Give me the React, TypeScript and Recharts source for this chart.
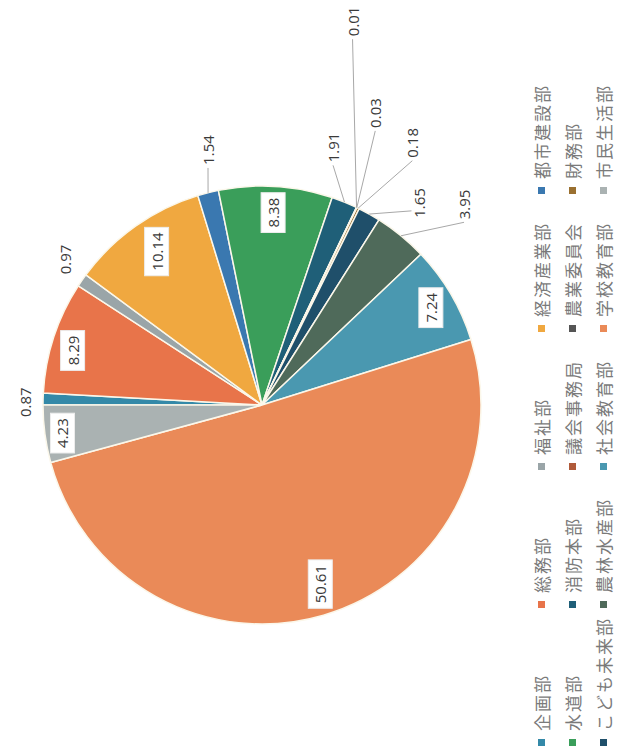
import React from 'react';
import { PieChart, Pie, Cell, Legend } from 'recharts';

const categories = ['企画部', '総務部', '福祉部', '経済産業部', '都市建設部', '水道部', '消防本部', '議会事務局', '農業委員会', '財務部', 'こども未来部', '農林水産部', '社会教育部', '学校教育部', '市民生活部'];
const values = [0.87, 8.29, 0.97, 10.14, 1.54, 8.38, 1.91, 0.01, 0.03, 0.18, 1.65, 3.95, 7.24, 50.61, 4.23];
const colors = ['#3489a8', '#e8744a', '#9aa5a8', '#f0a840', '#3a78b0', '#3a9e5a', '#1f5f78', '#b05a3a', '#555555', '#9a7030', '#1f4f6a', '#4f6a5a', '#4a98b0', '#ea8a58', '#aab2b2'];

// label placement: radius as fraction of outer radius, angle shift (deg) from slice mid angle
const labelRadius = [1.08, 0.9, 1.12, 0.85, 1.19, 0.88, 1.22, 1.8, 1.43, 1.38, 1.17, 1.3, 0.89, 0.86, 0.92];
const labelShift = [0.9, 2.0, -1.7, -0.8, -2.3, 0.3, 6.7, 12.3, 4.45, -3.8, -8.6, -5.8, -0.5, 1.7, 0.4];
const labelBoxed = [false, true, false, true, false, true, false, false, false, false, false, false, true, true, true];
const labelLeader = ['none', 'none', 'none', 'none', 'left', 'none', 'left', 'left', 'left', 'left', 'top', 'left', 'none', 'none', 'none'];

const data = categories.map((name, i) => ({ name, value: values[i] }));

const RAD = Math.PI / 180;
const W = 756;
const H = 619;

const textWidth = (s: string) => {
  let w = 0;
  for (const ch of s) w += ch === '.' ? 4 : 8.6;
  return w;
};

const renderLabel = (props: any) => {
  const { cx, cy, midAngle, outerRadius, index, value } = props;
  const ang = midAngle + labelShift[index];
  const r = outerRadius * labelRadius[index];
  const lx = cx + r * Math.cos(-ang * RAD);
  const ly = cy + r * Math.sin(-ang * RAD);
  const txt = value.toFixed(2);
  const tw = textWidth(txt);
  const els: any[] = [];
  if (labelLeader[index] !== 'none') {
    const ex = cx + outerRadius * Math.cos(-midAngle * RAD);
    const ey = cy + outerRadius * Math.sin(-midAngle * RAD);
    let tx = lx - tw / 2 - 3;
    let ty = ly;
    if (labelLeader[index] === 'top') {
      tx = lx - 8;
      ty = ly - 8;
    }
    els.push(<line key="l" x1={ex} y1={ey} x2={tx} y2={ty} stroke="#a8a8a8" strokeWidth={1} />);
  }
  if (labelBoxed[index]) {
    const bw = tw + 10;
    const bh = 24;
    els.push(<rect key="r" x={lx - bw / 2} y={ly - bh / 2} width={bw} height={bh} fill="#ffffff" stroke="#ececec" strokeWidth={1} />);
  }
  els.push(
    <text key="t" x={lx} y={ly} textAnchor="middle" dominantBaseline="central" fill="#3a3a3a" fontSize={15} fontFamily="'Open Sans', 'Noto Sans', sans-serif">
      {txt}
    </text>
  );
  return <g>{els}</g>;
};

const renderLegend = () => (
  <div style={{ display: 'flex', flexWrap: 'wrap', width: 700 }}>
    {categories.map((c, i) => (
      <div key={c} style={{ width: 138, height: 31, display: 'flex', alignItems: 'center' }}>
        <span style={{ width: 7, height: 7, background: colors[i], marginRight: 8, flex: 'none' }} />
        <span style={{ fontSize: 17, letterSpacing: 2, color: '#7a7a7a', fontFamily: "'Noto Sans CJK JP', sans-serif", whiteSpace: 'nowrap' }}>{c}</span>
      </div>
    ))}
  </div>
);

export default function App() {
  return (
    <div style={{ position: 'absolute', left: 0, top: 0, width: 619, height: 756, overflow: 'hidden', background: '#ffffff' }}>
      <div style={{ position: 'absolute', left: 0, top: 0, width: W, height: H, transformOrigin: '0 0', transform: 'translate(0px, 756px) rotate(-90deg)' }}>
        <PieChart width={W} height={H}>
          <Pie
            data={data}
            dataKey="value"
            nameKey="name"
            cx={346}
            cy={257}
            outerRadius={219}
            startAngle={90}
            endAngle={-270}
            stroke="#fbf7ea"
            strokeWidth={1.5}
            label={renderLabel}
            labelLine={false}
            isAnimationActive={false}
          >
            {data.map((d, i) => (
              <Cell key={d.name} fill={colors[i]} />
            ))}
          </Pie>
          <Legend content={renderLegend} wrapperStyle={{ position: 'absolute', left: 10, top: 526, width: 720 }} />
        </PieChart>
      </div>
    </div>
  );
}
